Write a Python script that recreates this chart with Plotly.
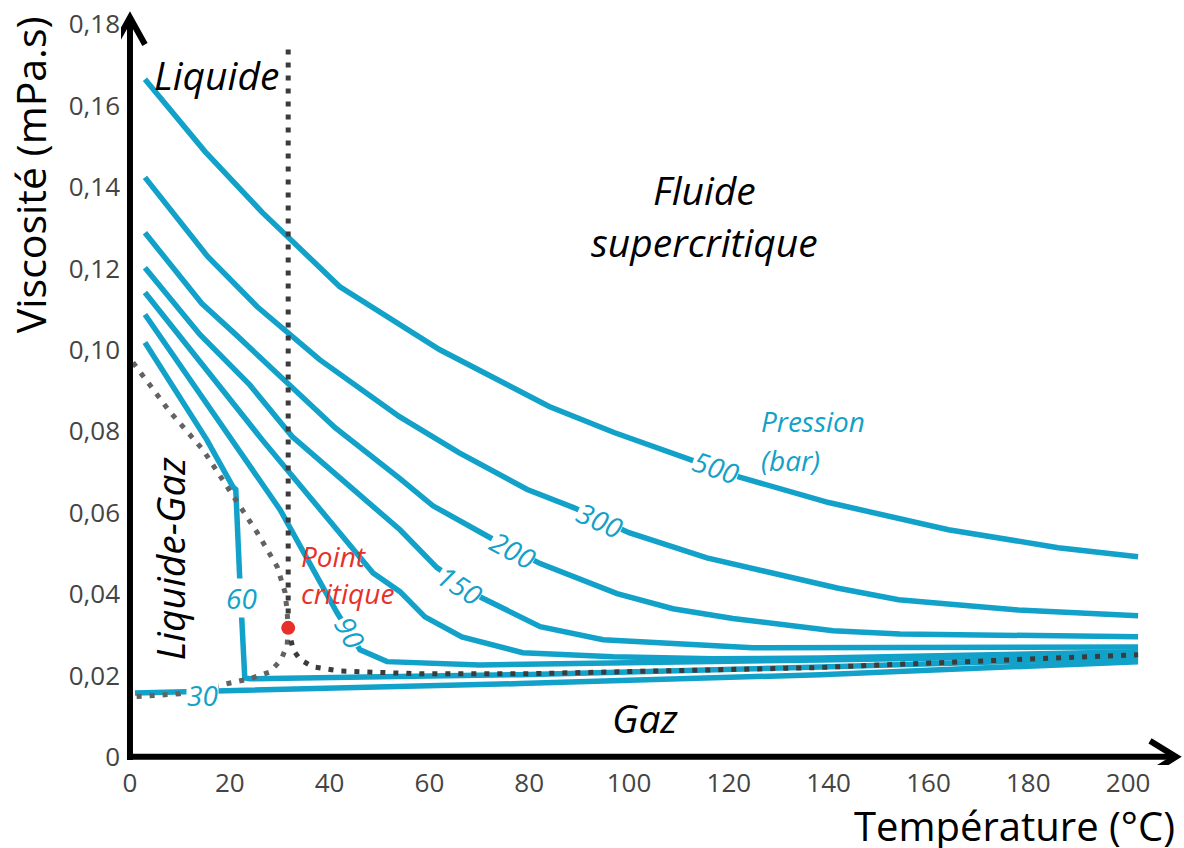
import plotly.graph_objects as go

BLUE = "#12a1c9"
RED = "#e8302a"
DARK_DOT = "#3b3b3b"
LIGHT_DOT = "#626262"
FONT = "Open Sans"

# isobars (pressure in bar): temperature (°C) and viscosity (mPa.s)
temp_500 = [3, 15, 26.5, 42, 62, 84, 97, 111, 122, 140, 164, 186, 202]
visc_500 = [0.1665, 0.1488, 0.1338, 0.1156, 0.1001, 0.0861, 0.0797, 0.0735, 0.0688, 0.0625, 0.0558, 0.0514, 0.0492]

temp_300 = [3, 15.6, 25.5, 38, 54, 66, 79.6, 89, 100, 115.6, 141.7, 154, 178, 202]
visc_300 = [0.1424, 0.1229, 0.1106, 0.0976, 0.0836, 0.0747, 0.0657, 0.0612, 0.0551, 0.0489, 0.0415, 0.0386, 0.0361, 0.0347]

temp_200 = [3, 14.4, 21, 31.7, 41.1, 54.1, 60.7, 72.1, 82.2, 97.6, 108.8, 120.8, 140.9, 154.3, 202]
visc_200 = [0.1288, 0.1114, 0.1040, 0.0917, 0.0809, 0.0684, 0.0617, 0.0539, 0.0475, 0.0401, 0.0364, 0.0340, 0.0310, 0.0302, 0.0295]

temp_150 = [3, 14, 24, 32.5, 44.1, 54.1, 61.5, 70.5, 82.2, 94.8, 124.8, 154.3, 202]
visc_150 = [0.1202, 0.1038, 0.0914, 0.0787, 0.0664, 0.0558, 0.0465, 0.0391, 0.0320, 0.0288, 0.0268, 0.0268, 0.0270]

temp_120 = [3, 26.5, 48.7, 54.1, 59.1, 66.5, 78.7, 96.8, 116.8, 138.3, 202]
visc_120 = [0.1141, 0.0779, 0.0452, 0.0406, 0.0344, 0.0295, 0.0256, 0.0246, 0.0241, 0.0243, 0.0258]

temp_90 = [3, 20.4, 30.1, 41.5, 46.1, 51.5, 58.1, 70.1, 138.3, 202]
visc_90 = [0.1087, 0.0779, 0.0607, 0.0354, 0.0263, 0.0234, 0.0231, 0.0226, 0.0238, 0.0251]

temp_60 = [3, 15.4, 20.6, 21.2, 22.0, 23.0, 24.0, 78.2, 138.3, 202]
visc_60 = [0.1018, 0.0779, 0.0664, 0.0657, 0.0435, 0.0194, 0.0192, 0.0202, 0.0221, 0.0243]

temp_30 = [1, 78.2, 138.3, 202]
visc_30 = [0.0157, 0.0180, 0.0202, 0.0234]

# phase boundaries
liq_t = [0.6, 8.0, 14.6, 21.0, 25.5, 29.5, 31.1, 31.5, 31.7]
liq_v = [0.0969, 0.0848, 0.0755, 0.0632, 0.0551, 0.0467, 0.0403, 0.0354, 0.0320]
vap_t = [31.7, 31.5, 30.3, 28.1, 24.0, 19.4, 10.0, 1.0]
vap_v = [0.0320, 0.0275, 0.0239, 0.0209, 0.0192, 0.0179, 0.0155, 0.0148]
sc_t = [31.7, 31.9, 32.7, 34.1, 36.7, 42.1, 58.1, 78.2, 136.9, 202]
sc_v = [0.0317, 0.0305, 0.0263, 0.0239, 0.0221, 0.0211, 0.0204, 0.0204, 0.0219, 0.0251]
crit_t = 31.7
crit_v = 0.0317
isotherm_top = 0.1738

x_ticks = [0, 20, 40, 60, 80, 100, 120, 140, 160, 180, 200]
y_ticks = [0, 0.02, 0.04, 0.06, 0.08, 0.10, 0.12, 0.14, 0.16, 0.18]
y_ticktext = ["0", "0,02", "0,04", "0,06", "0,08", "0,10", "0,12", "0,14", "0,16", "0,18"]

fig = go.Figure()

for t, v in [(temp_500, visc_500), (temp_300, visc_300), (temp_200, visc_200),
             (temp_150, visc_150), (temp_120, visc_120), (temp_90, visc_90),
             (temp_60, visc_60), (temp_30, visc_30)]:
    fig.add_trace(go.Scatter(x=t, y=v, mode="lines", line=dict(color=BLUE, width=5.5),
                             hoverinfo="skip"))

dots = "5px,8px"
fig.add_trace(go.Scatter(x=liq_t, y=liq_v, mode="lines", line=dict(color=LIGHT_DOT, width=5, dash=dots)))
fig.add_trace(go.Scatter(x=vap_t, y=vap_v, mode="lines", line=dict(color=LIGHT_DOT, width=5, dash=dots)))
fig.add_trace(go.Scatter(x=sc_t, y=sc_v, mode="lines", line=dict(color=DARK_DOT, width=5, dash=dots)))
fig.add_trace(go.Scatter(x=[crit_t, crit_t], y=[isotherm_top, crit_v], mode="lines",
                         line=dict(color=DARK_DOT, width=5, dash=dots)))
fig.add_trace(go.Scatter(x=[crit_t], y=[crit_v], mode="markers",
                         marker=dict(color=RED, size=14)))

# axes with arrows
ax = dict(color="black", width=6)
fig.add_shape(type="line", x0=0, x1=0, y0=-0.0008, y1=0.1817, line=ax)
fig.add_shape(type="line", x0=-0.6, x1=209.6, y0=0, y1=0, line=ax)
fig.add_shape(type="path", xsizemode="pixel", ysizemode="pixel", xanchor=0, yanchor=0.1817,
              path="M-15,-27 L0,0 L15,-27", line=ax)
fig.add_shape(type="path", xsizemode="pixel", ysizemode="pixel", xanchor=209.6, yanchor=0,
              path="M-26,16 L0,0 L-26,-16", line=ax)


def label(text, x, y, angle=0, color=BLUE, size=28, bg="white", xanchor="center"):
    fig.add_annotation(x=x, y=y, text=text, showarrow=False, textangle=angle,
                       xanchor=xanchor, bgcolor=bg, borderpad=0,
                       font=dict(family=FONT, size=size, color=color, style="italic"))


label("500", 117.4, 0.0713, 19)
label("300", 94.2, 0.0583, 24)
label("200", 76.8, 0.0509, 28)
label("150", 66.1, 0.0423, 33)
label("90", 44.1, 0.0307, 62)
label("60", 22.4, 0.0391)
label("30", 14.6, 0.0152)
label("Pression", 126.3, 0.0826, xanchor="left", bg=None)
label("(bar)", 126.3, 0.0730, xanchor="left", bg=None)
label("Point", 34.1, 0.0494, color=RED, xanchor="left", bg=None)
label("critique", 34.1, 0.0403, color=RED, xanchor="left", bg=None)

label("Liquide", 17.4, 0.1677, color="black", size=39, bg=None)
label("Fluide", 115.2, 0.1394, color="black", size=39, bg=None)
label("supercritique", 115.2, 0.1266, color="black", size=39, bg=None)
label("Liquide-Gaz", 8.0, 0.0487, angle=-90, color="black", size=39, bg=None)
label("Gaz", 103.2, 0.0096, color="black", size=39, bg=None)

fig.add_annotation(xref="paper", yref="paper", x=1, xshift=-6, y=0, yshift=-60, xanchor="right",
                   yanchor="middle", text="Température (°C)", showarrow=False,
                   font=dict(family=FONT, size=40, color="black"))
fig.add_annotation(xref="paper", yref="paper", x=0, xshift=-91, y=0.773, xanchor="center",
                   yanchor="middle", text="Viscosité (mPa.s)", textangle=-90, showarrow=False,
                   font=dict(family=FONT, size=41, color="black"))

fig.update_layout(
    width=1184, height=848,
    margin=dict(l=121, r=1, t=2, b=83),
    plot_bgcolor="white", paper_bgcolor="white",
    showlegend=False,
    font=dict(family=FONT, size=26, color="#444444"),
    xaxis=dict(range=[-1.8, 211], tickvals=x_ticks, showgrid=False, zeroline=False,
               showline=False, ticks=""),
    yaxis=dict(range=[-0.002, 0.1855], tickvals=y_ticks, ticktext=y_ticktext,
               showgrid=False, zeroline=False, showline=False, ticks=""),
)

fig.write_html("out.html", config={"displayModeBar": False},
               post_script="document.body.style.margin='0';")
